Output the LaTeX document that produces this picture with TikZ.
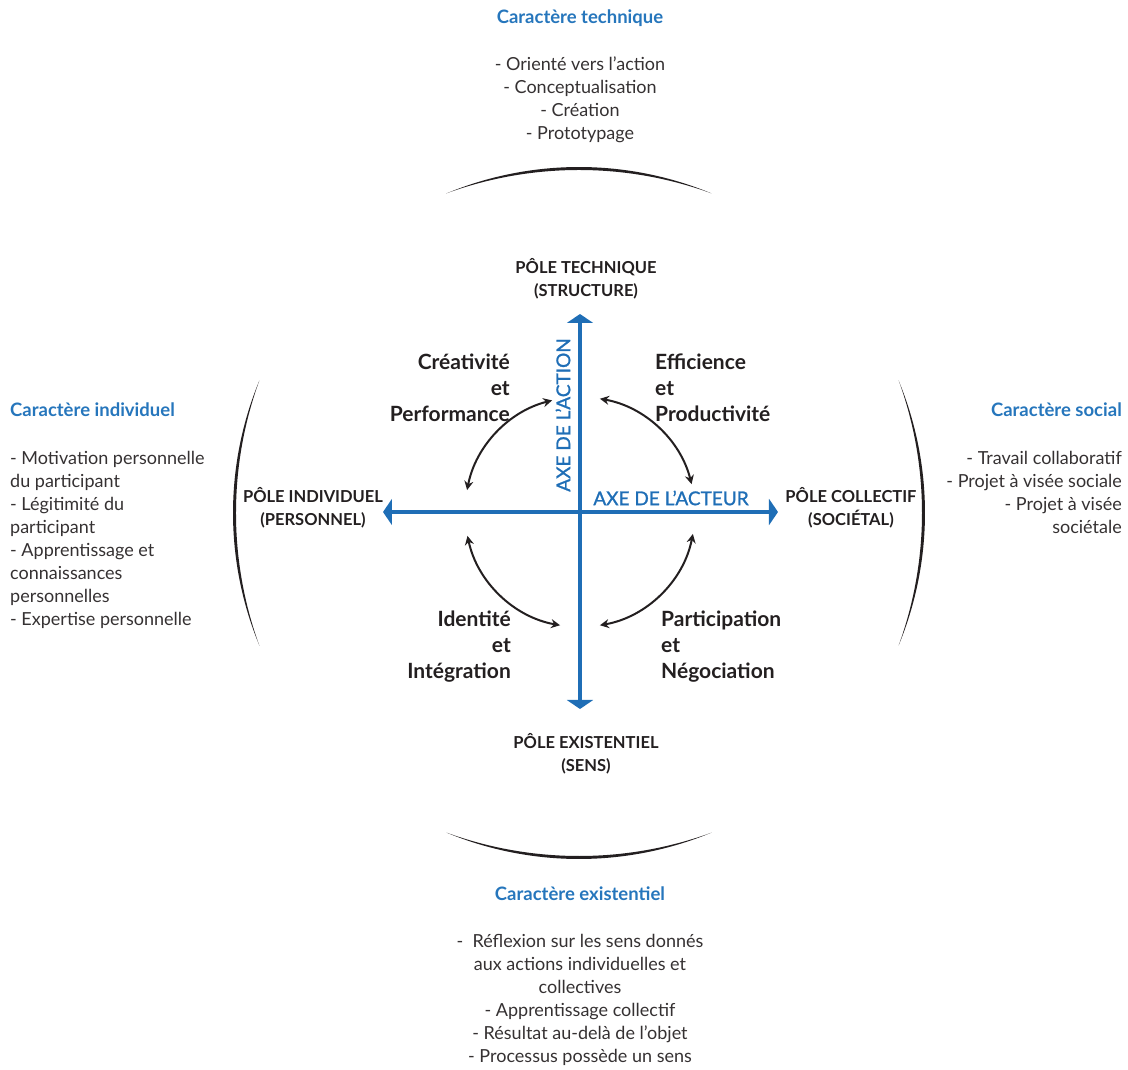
\documentclass[tikz,border=0pt]{standalone}
\usepackage{fontspec}
\setmainfont{Lato}
\newfontfamily\axisfont[RawFeature={embolden=1.2}]{Lato}
\usetikzlibrary{arrows.meta}
\definecolor{axisblue}{RGB}{31,110,182}
\definecolor{titleblue}{RGB}{38,118,188}
\definecolor{ink}{RGB}{35,31,32}

\tikzset{
  titletext/.style={font=\fontsize{18.5}{22}\selectfont\bfseries, text=titleblue, inner sep=0},
  listtext/.style={font=\fontsize{18}{23}\selectfont, text=ink!92, inner sep=0},
  poletext/.style={font=\fontsize{16.5}{23}\selectfont\bfseries, text=ink, inner sep=0, align=center, anchor=north},
  quadtext/.style={font=\fontsize{21}{26}\selectfont\bfseries, text=ink, inner sep=0},
  axislabel/.style={font=\fontsize{19}{22}\axisfont, text=axisblue, inner sep=0},
  axisline/.style={draw=axisblue, line width=3.5pt, -{Triangle[width=26pt,length=9pt]}},
  cyclearrow/.style={draw=ink, line width=2pt, {Stealth[length=9pt,width=9pt]}-{Stealth[length=9pt,width=9pt]}},
  crescent/.style={fill=ink},
}

\begin{document}
\begin{tikzpicture}[x=1pt,y=1pt]
\useasboundingbox (-580,-558) rectangle (548,512);

% outer circle: four tapered arcs
\coordinate (O) at (-1,-1);
\foreach \a in {0,90,180,270}{
  \fill[crescent] (O) ++(90+\a+22.5:346)
    arc[start angle=90+\a+22.5, end angle=90+\a-22.5, radius=346]
    arc[start angle=90+\a-20, end angle=90+\a+20, radius=387.28] -- cycle;
}

% axes
\coordinate (C) at (0,0);
\coordinate (top) at (0,198);
\coordinate (bottom) at (0,-197);
\coordinate (left) at (-197,0);
\coordinate (right) at (198,0);
\draw[axisline] (C) -- (top);
\draw[axisline] (C) -- (bottom);
\draw[axisline] (C) -- (left);
\draw[axisline] (C) -- (right);

\node[axislabel, rotate=90] (action) at (-17,97) {AXE DE L’ACTION};
\node[axislabel] (acteur) at (91,14) {AXE DE L’ACTEUR};

% cycle arrows between the quadrants
\coordinate (tlA) at (104:115);
\coordinate (trA) at (80:115);
\coordinate (blA) at (192:115);
\coordinate (brA) at (-11:115);
\draw[cyclearrow] (tlA) arc[start angle=104, end angle=169, radius=115];
\draw[cyclearrow] (trA) arc[start angle=80, end angle=14, radius=115];
\draw[cyclearrow] (blA) arc[start angle=192, end angle=260, radius=115];
\draw[cyclearrow] (brA) arc[start angle=-11, end angle=-80, radius=115];

% poles
\node[poletext] (pTech) at (6,254.6) {\strut PÔLE TECHNIQUE\\(STRUCTURE)};
\node[poletext] (pInd) at (-267,25.6) {\strut PÔLE INDIVIDUEL\\(PERSONNEL)};
\node[poletext] (pCol) at (271,25.6) {\strut PÔLE COLLECTIF\\(SOCIÉTAL)};
\node[poletext] (pExi) at (6,-220.4) {\strut PÔLE EXISTENTIEL\\(SENS)};

% quadrant labels
\node[quadtext, anchor=north east, align=right] (qTL) at (-70,161.2) {\strut Créativité\\et\\Performance};
\node[quadtext, anchor=north west, align=left] (qTR) at (75,161.2) {\strut Efficience\\et\\Productivité};
\node[quadtext, anchor=north east, align=right] (qBL) at (-69,-95.8) {\strut Identité\\et\\Intégration};
\node[quadtext, anchor=north west, align=left] (qBR) at (81,-95.8) {\strut Participation\\et\\Négociation};

% characters
\node[titletext, anchor=base] (tTech) at (0,488) {Caractère technique};
\node[listtext, anchor=north, align=center] (lTech) at (0,457.6)
  {\strut - Orienté vers l’action\\- Conceptualisation\\- Création\\- Prototypage};

\node[titletext, anchor=base west] (tInd) at (-570,95) {Caractère individuel};
\node[listtext, anchor=north west, align=left] (lInd) at (-570,64.1)
  {\strut - Motivation personnelle\\du participant\\- Légitimité du\\participant\\- Apprentissage et\\connaissances\\personnelles\\- Expertise personnelle};

\node[titletext, anchor=base east] (tSoc) at (542,95) {Caractère social};
\node[listtext, anchor=north east, align=right] (lSoc) at (542,64.1)
  {\strut - Travail collaboratif\\- Projet à visée sociale\\- Projet à visée\\sociétale};

\node[titletext, anchor=base] (tExi) at (0,-389) {Caractère existentiel};
\node[listtext, anchor=north, align=center] (lExi) at (0,-418.9)
  {\strut -\ \ Réflexion sur les sens donnés\\aux actions individuelles et\\collectives\\- Apprentissage collectif\\- Résultat au-delà de l’objet\\- Processus possède un sens};
\end{tikzpicture}
\end{document}
